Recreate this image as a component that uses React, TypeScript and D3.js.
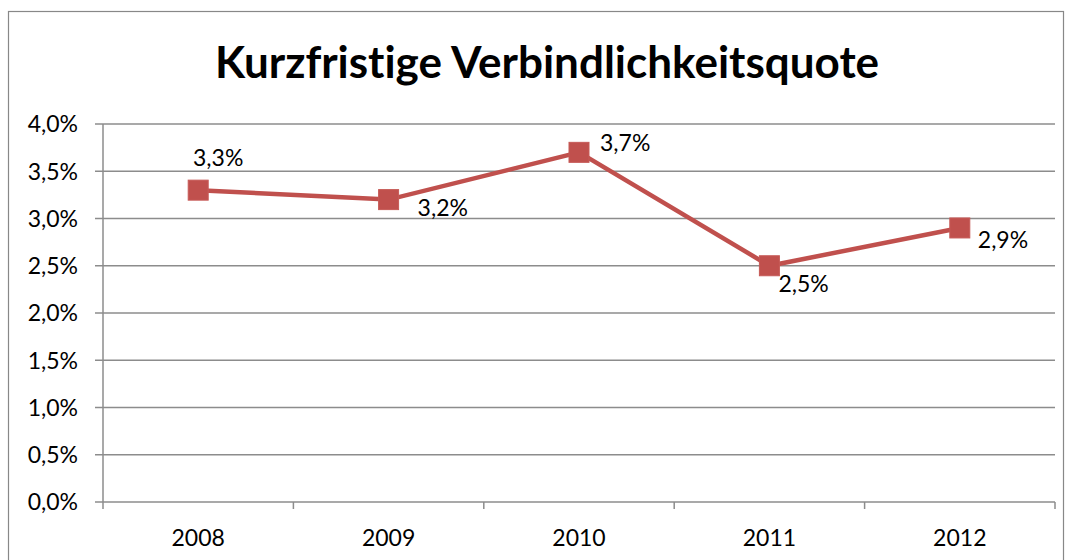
import React from "react";
import * as d3 from "d3";

const years = ["2008", "2009", "2010", "2011", "2012"];
const values = [3.3, 3.2, 3.7, 2.5, 2.9];
const yTicks = [0, 0.5, 1, 1.5, 2, 2.5, 3, 3.5, 4];
const labelDx = [20, 29, 21, 9, 18];
const labelDy = [-32, 8, -10, 18, 12];
const labelAnchor = ["middle", "start", "start", "start", "start"];

const W = 1072;
const H = 560;
const left = 103;
const right = 1055;
const top = 124;
const bottom = 502;

export default function App() {
  const x = d3.scaleBand<string>().domain(years).range([left, right]).padding(0);
  const y = d3.scaleLinear().domain([0, 4]).range([bottom, top]);
  const fmt = (v: number) => v.toFixed(1).replace(".", ",") + "%";
  const cx = (i: number) => (x(years[i]) as number) + x.bandwidth() / 2;
  const line = d3
    .line<number>()
    .x((_, i) => cx(i))
    .y((d) => y(d));
  const boundaries = years.map((yr) => x(yr) as number).concat([right]);
  const font = "Lato, 'Open Sans', sans-serif";
  const fs = 23;
  return (
    <svg
      width={W}
      height={H}
      style={{ position: "absolute", left: 0, top: 0, background: "#fff", fontVariantLigatures: "none" }}
    >
      <rect x={8.5} y={11.5} width={1055} height={560} fill="#fff" stroke="#888" strokeWidth={1.2} />
      <text
        x={547}
        y={78}
        textAnchor="middle"
        fontFamily={font}
        fontWeight="bold"
        fontSize={44}
        fill="#000"
      >
        Kurzfristige Verbindlichkeitsquote
      </text>
      {yTicks.map((t) => (
        <g key={t}>
          <line x1={95} x2={right} y1={y(t)} y2={y(t)} stroke="#8c8c8c" strokeWidth={1.5} />
          <text
            x={78}
            y={y(t)}
            dy="0.36em"
            textAnchor="end"
            fontFamily={font}
            fontSize={fs}
            fill="#000"
          >
            {fmt(t)}
          </text>
        </g>
      ))}
      <line x1={left} x2={left} y1={top} y2={bottom} stroke="#8c8c8c" strokeWidth={1.5} />
      {boundaries.map((b, i) => (
        <line key={i} x1={b} x2={b} y1={bottom} y2={bottom + 7} stroke="#8c8c8c" strokeWidth={1.5} />
      ))}
      {years.map((yr, i) => (
        <text
          key={yr}
          x={cx(i)}
          y={546}
          textAnchor="middle"
          fontFamily={font}
          fontSize={fs}
          fill="#000"
        >
          {yr}
        </text>
      ))}
      <path d={line(values) || ""} fill="none" stroke="#C0504D" strokeWidth={4.5} />
      {values.map((v, i) => (
        <rect
          key={i}
          x={cx(i) - 10}
          y={y(v) - 10}
          width={20}
          height={20}
          fill="#C0504D"
          stroke="#c65a57"
          strokeWidth={1}
        />
      ))}
      {values.map((v, i) => (
        <text
          key={"l" + i}
          x={cx(i) + labelDx[i]}
          y={y(v) + labelDy[i]}
          dy="0.36em"
          textAnchor={labelAnchor[i] as any}
          fontFamily={font}
          fontSize={fs}
          fill="#000"
        >
          {fmt(v)}
        </text>
      ))}
    </svg>
  );
}
